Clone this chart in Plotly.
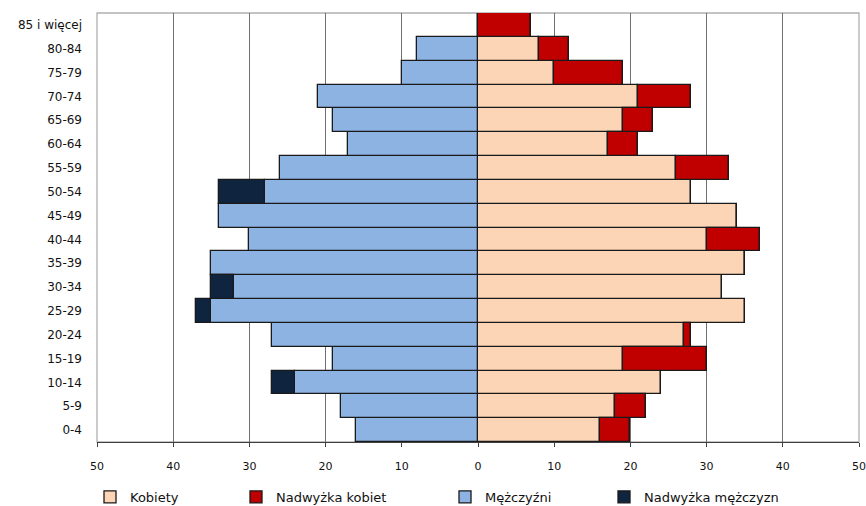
import plotly.graph_objects as go

age_groups = ["0-4", "5-9", "10-14", "15-19", "20-24", "25-29", "30-34", "35-39",
              "40-44", "45-49", "50-54", "55-59", "60-64", "65-69", "70-74",
              "75-79", "80-84", "85 i więcej"]
kobiety = [16, 18, 24, 19, 27, 35, 32, 35, 30, 34, 28, 26, 17, 19, 21, 10, 8, 0]
nadwyzka_kobiet = [4, 4, 0, 11, 1, 0, 0, 0, 7, 0, 0, 7, 4, 4, 7, 9, 4, 7]
mezczyzni = [16, 18, 24, 19, 27, 35, 32, 35, 30, 34, 28, 26, 17, 19, 21, 10, 8, 0]
nadwyzka_mezczyzn = [0, 0, 3, 0, 0, 2, 3, 0, 0, 0, 6, 0, 0, 0, 0, 0, 0, 0]

tick_vals = [-50, -40, -30, -20, -10, 0, 10, 20, 30, 40, 50]
tick_text = ["50", "40", "30", "20", "10", "0", "10", "20", "30", "40", "50"]

FONT = "DejaVu Sans"
line = dict(color="#1a1a1a", width=1.3)

fig = go.Figure()
fig.add_trace(go.Bar(y=age_groups, x=kobiety, orientation="h", name="Kobiety",
                     marker=dict(color="#FBD5B5", line=line), legend="legend"))
fig.add_trace(go.Bar(y=age_groups, x=nadwyzka_kobiet, orientation="h", name="Nadwyżka kobiet",
                     marker=dict(color="#C00000", line=line), legend="legend2"))
fig.add_trace(go.Bar(y=age_groups, x=[-v for v in mezczyzni], orientation="h", name="Mężczyźni",
                     marker=dict(color="#8DB3E2", line=line), legend="legend3"))
fig.add_trace(go.Bar(y=age_groups, x=[-v for v in nadwyzka_mezczyzn], orientation="h",
                     name="Nadwyżka mężczyzn",
                     marker=dict(color="#0F243E", line=line), legend="legend4"))

W = 762.0
leg_common = dict(orientation="h", xanchor="left", yanchor="middle", y=-0.128,
                  font=dict(family=FONT, size=13, color="#111"),
                  bgcolor="rgba(0,0,0,0)", itemwidth=30, tracegroupgap=0)

fig.update_layout(
    width=866, height=506,
    margin=dict(l=97, r=7, t=13, b=64, autoexpand=False),
    paper_bgcolor="white", plot_bgcolor="white",
    barmode="relative", bargap=0,
    showlegend=True,
    legend=dict(x=(90 - 97) / W, **leg_common),
    legend2=dict(x=(236 - 97) / W, **leg_common),
    legend3=dict(x=(445 - 97) / W, **leg_common),
    legend4=dict(x=(604 - 97) / W, **leg_common),
    xaxis=dict(range=[-50, 50], tickvals=tick_vals, ticktext=tick_text,
               showgrid=True, gridcolor="#707070", gridwidth=1,
               zeroline=False, showline=True, linecolor="#404040", linewidth=1.3,
               ticks="outside", ticklen=4, tickcolor="#404040",
               tickfont=dict(family=FONT, size=11, color="#111"),
               ticklabelstandoff=10, fixedrange=True, automargin=False),
    yaxis=dict(categoryorder="array", categoryarray=age_groups,
               showgrid=False, zeroline=False, showline=False,
               tickfont=dict(family=FONT, size=12, color="#111"),
               ticklabelstandoff=14, fixedrange=True, automargin=False),
    shapes=[dict(type="rect", xref="paper", yref="paper", x0=0, x1=1, y0=0, y1=1,
                 line=dict(color="#b0b0b0", width=1.3), layer="below")],
)

fig.write_html("out.html", config={"displayModeBar": False},
               post_script="document.body.style.margin='0';document.body.style.overflow='hidden';")
